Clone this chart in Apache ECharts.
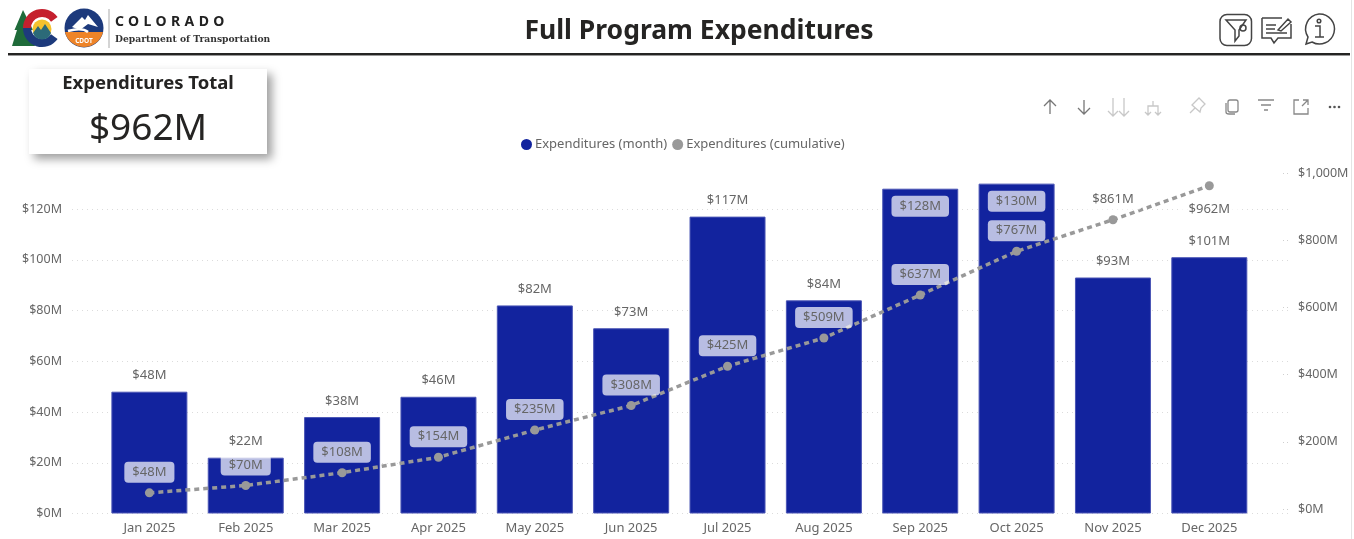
<!DOCTYPE html>
<html>
<head>
<meta charset="utf-8">
<title>Full Program Expenditures</title>
<script src="https://cdn.jsdelivr.net/npm/echarts@6/dist/echarts.min.js"></script>
<style>
  html, body { margin: 0; padding: 0; background: #fff; }
  body { width: 1354px; height: 539px; overflow: hidden; position: relative; font-family: "Noto Sans", sans-serif; }
  #chart { position: absolute; left: 0; top: 0; width: 1354px; height: 539px; }
  .abs { position: absolute; }
  #title { left: 399px; width: 600px; top: 11px; text-align: center; font-size: 26.5px; line-height: 36px; font-weight: 700; color: #252423; white-space: nowrap; }
  #rule { left: 8px; top: 53px; width: 1342px; height: 2px; background: #252423; border-bottom: 1px solid #999; }
  #edge { left: 1351px; top: 0; width: 1px; height: 539px; background: #e4e4e4; }
  #card { left: 29px; top: 69px; width: 238px; height: 85px; background: #fff; box-shadow: 5px 5px 9px rgba(0,0,0,.38); text-align: center; color: #252423; }
  #cardTitle { font-size: 18.5px; font-weight: 700; line-height: 28px; margin-top: -1px; }
  #cardValue { font-size: 37px; line-height: 54px; margin-top: 3px; }
  #co { left: 115px; top: 12px; font-size: 14px; line-height: 18px; font-weight: 700; letter-spacing: 4.4px; color: #222; }
  #dept { left: 115px; top: 32px; font-family: "DejaVu Serif", serif; font-size: 9.2px; line-height: 14px; font-weight: 700; color: #333; white-space: nowrap; }
</style>
</head>
<body>
<div id="chart"></div>

<svg class="abs" style="left:0;top:0" width="112" height="54" viewBox="0 0 112 54">
  <path d="M23 10 L33 30 L30 30 L35 46 L12 46 L17 30 L14.500 30 Z" fill="#1f6b3a"/>
  <path d="M54.300 19.400 A15 15 0 0 0 27 28" fill="none" stroke="#c5202e" stroke-width="8"/>
  <path d="M27 28 A15 15 0 0 0 54.300 36.600" fill="none" stroke="#1d3a7c" stroke-width="8"/>
  <circle cx="42" cy="29" r="9.500" fill="#f4c22e"/>
  <path d="M33 33 L38 26 L41 30 L45 24 L51 33 A9.500 9.500 0 0 1 33 33 Z" fill="#2c6a78"/>
  <circle cx="84" cy="28" r="19.500" fill="#1d3a7c"/>
  <path d="M65 32 L103 32 A19.500 19.500 0 0 1 65 32 Z" fill="#ee8428"/>
  <path d="M72 27 L82 17 L85 20 L88 15 L98 27 L88 24 L80 30 Z" fill="#fff"/>
  <path d="M68 31 Q82 27 88 32" fill="none" stroke="#fff" stroke-width="2.500"/>
  <text x="84" y="43" text-anchor="middle" font-size="6.500" font-weight="700" fill="#fff" font-family="Noto Sans">CDOT</text>
  <rect x="108.500" y="9" width="1" height="39" fill="#aaa"/>
</svg>
<div class="abs" id="co">COLORADO</div>
<div class="abs" id="dept">Department of Transportation</div>

<div class="abs" id="title">Full Program Expenditures</div>
<div class="abs" id="rule"></div>
<div class="abs" id="edge"></div>

<!-- buttons top right -->
<svg class="abs" style="left:1215px;top:10px" width="130" height="40" viewBox="1215 10 130 40" fill="none" stroke="#444" stroke-width="1.500">
  <rect x="1220" y="14.500" width="31.500" height="31" rx="7"/>
  <path d="M1226 20 H1246 L1239 30 V36 L1235 41 V30 Z"/>
  <circle cx="1243" cy="28" r="3"/>
  <path d="M1262 18 H1282 M1262 18 V38 H1271 L1274 43 L1278 38 H1291 V24 M1266 25 H1276 M1266 29 H1275 M1266 33 H1287 M1278 30 L1288 19 L1291 22 L1281 31 Z"/>
  <path d="M1319 14 A15 15 0 1 1 1312 42 L1306 44 L1308 37 A15 15 0 0 1 1319 14 Z"/>
  <circle cx="1319" cy="21" r="1.800"/>
  <path d="M1315 26 H1320 V37 M1315 37 H1324"/>
</svg>

<!-- visual header icons -->
<svg class="abs" style="left:1040px;top:96px" width="304" height="24" viewBox="1040 96 304 24" fill="none" stroke="#777" stroke-width="1.300">
  <path d="M1050 114 V100 M1044 106 L1050 100 L1056 106"/>
  <path d="M1084 100 V114 M1078 108 L1084 114 L1090 108"/>
  <g stroke="#c8c8c8"><path d="M1113 98 V116 M1108 111 L1113 116 L1118 111 M1124 98 V116 M1119 111 L1124 116 L1129 111"/>
  <path d="M1153 101 V106 M1148 115 V106 H1158 V115 M1145 112 L1148 115 L1151 112 M1155 112 L1158 115 L1161 112"/>
  <path d="M1190 113 L1195 108 M1192 105 L1200 112 L1201 108 L1205 104 L1199 98 L1195 102 Z"/></g>
  <g stroke="#888"><rect x="1228" y="100" width="10" height="12" rx="2"/><path d="M1226 103 V112 Q1226 114 1229 114 H1235"/>
  <path d="M1258 100 H1274 M1261 105 H1271 M1264 110 H1268"/>
  <path d="M1299 100 H1294 V114 H1308 V108 M1302 106 L1308 100 M1303 100 H1308 V105"/></g>
  <g fill="#555" stroke="none"><circle cx="1330" cy="107" r="1.300"/><circle cx="1334.500" cy="107" r="1.300"/><circle cx="1339" cy="107" r="1.300"/></g>
</svg>

<div class="abs" id="card">
  <div id="cardTitle">Expenditures Total</div>
  <div id="cardValue">$962M</div>
</div>

<script>
const months = ['Jan 2025', 'Feb 2025', 'Mar 2025', 'Apr 2025', 'May 2025', 'Jun 2025',
  'Jul 2025', 'Aug 2025', 'Sep 2025', 'Oct 2025', 'Nov 2025', 'Dec 2025']
const monthly = [48, 22, 38, 46, 82, 73, 117, 84, 128, 130, 93, 101]
const cumulative = [48, 70, 108, 154, 235, 308, 425, 509, 637, 767, 861, 962]

const font = 'Noto Sans'
const grey = '#666666'
const money = (v) => '$' + v.toLocaleString('en-US') + 'M'

// chip behind the data labels, reads lavender on top of the bars
const chip = {
  backgroundColor: 'rgba(255,255,255,0.7)',
  borderRadius: 4,
  padding: [4, 8, 4, 8]
}

const myChart = echarts.init(document.getElementById('chart'))
const option = {
  animation: false,
  textStyle: { fontFamily: font },
  legend: {
    left: 516,
    top: 133,
    itemGap: 5,
    itemWidth: 11,
    itemHeight: 11,
    itemStyle: { borderWidth: 0 },
    textStyle: { color: grey, fontSize: 13, fontFamily: font, padding: [0, 0, 0, -2] },
    data: [
      { name: 'Expenditures (month)', icon: 'circle' },
      { name: 'Expenditures (cumulative)', icon: 'circle' }
    ]
  },
  // 0: full width gridlines, 1: bars, 2: cumulative line (its zero sits a bit higher)
  grid: [
    { left: 72, width: 1216, top: 158.25, height: 355.25 },
    { left: 101.2, width: 1156.3, top: 158.25, height: 355.25 },
    { left: 101.2, width: 1156.3, top: 173, height: 336 }
  ],
  xAxis: [
    { gridIndex: 0, type: 'value', min: 0, max: 1, show: false },
    {
      gridIndex: 1,
      type: 'category',
      data: months,
      axisLine: { show: false },
      axisTick: { show: false },
      axisLabel: { color: grey, fontSize: 13, margin: 8, fontFamily: font }
    },
    { gridIndex: 2, type: 'category', data: months, show: false }
  ],
  yAxis: [
    {
      gridIndex: 0,
      type: 'value',
      min: 0,
      max: 140,
      interval: 20,
      axisLine: { show: false },
      axisTick: { show: false },
      axisLabel: { color: grey, fontSize: 12.500, margin: 10, padding: [3, 0, 0, 0], showMaxLabel: false, formatter: money, fontFamily: font },
      splitLine: { showMaxLine: false, lineStyle: { color: '#dcdcdc', type: [1, 4] } }
    },
    { gridIndex: 1, type: 'value', min: 0, max: 140, interval: 20, show: false },
    {
      gridIndex: 2,
      type: 'value',
      position: 'right',
      offset: 30.5,
      min: 0,
      max: 1000,
      interval: 200,
      axisLine: { show: false },
      axisTick: { show: true, inside: true, length: 6, lineStyle: { color: '#cfcfcf', type: [1, 3] } },
      axisLabel: { color: grey, fontSize: 12.500, margin: 10, padding: [3, 0, 0, 0], formatter: money, fontFamily: font },
      splitLine: { show: false }
    }
  ],
  series: [
    {
      name: 'Expenditures (month)',
      type: 'bar',
      xAxisIndex: 1,
      yAxisIndex: 1,
      barWidth: 76,
      itemStyle: { color: '#12239E', borderColor: '#4a55b5', borderWidth: 1 },
      data: monthly.map((v) => {
        // the two tallest bars keep the label inside
        if (v < 128) return v
        return { value: v, label: { position: 'insideTop', distance: 7, ...chip } }
      }),
      label: {
        show: true,
        position: 'top',
        distance: 9.5,
        color: grey,
        fontSize: 13,
        fontFamily: font,
        formatter: (p) => money(p.value)
      }
    },
    {
      name: 'Expenditures (cumulative)',
      type: 'line',
      xAxisIndex: 2,
      yAxisIndex: 2,
      z: 3,
      symbol: 'circle',
      symbolSize: 9,
      itemStyle: { color: '#999999' },
      lineStyle: { color: '#999999', width: 3.5, type: [5, 4] },
      data: cumulative.map((v, i) => {
        if (i < cumulative.length - 1) return v
        return { value: v, label: { position: 'bottom', distance: 9 } }
      }),
      label: {
        show: true,
        position: 'top',
        distance: 5.5,
        color: grey,
        fontSize: 13,
        fontFamily: font,
        formatter: (p) => money(p.value),
        ...chip
      }
    }
  ]
}
myChart.setOption(option)
</script>
</body>
</html>
